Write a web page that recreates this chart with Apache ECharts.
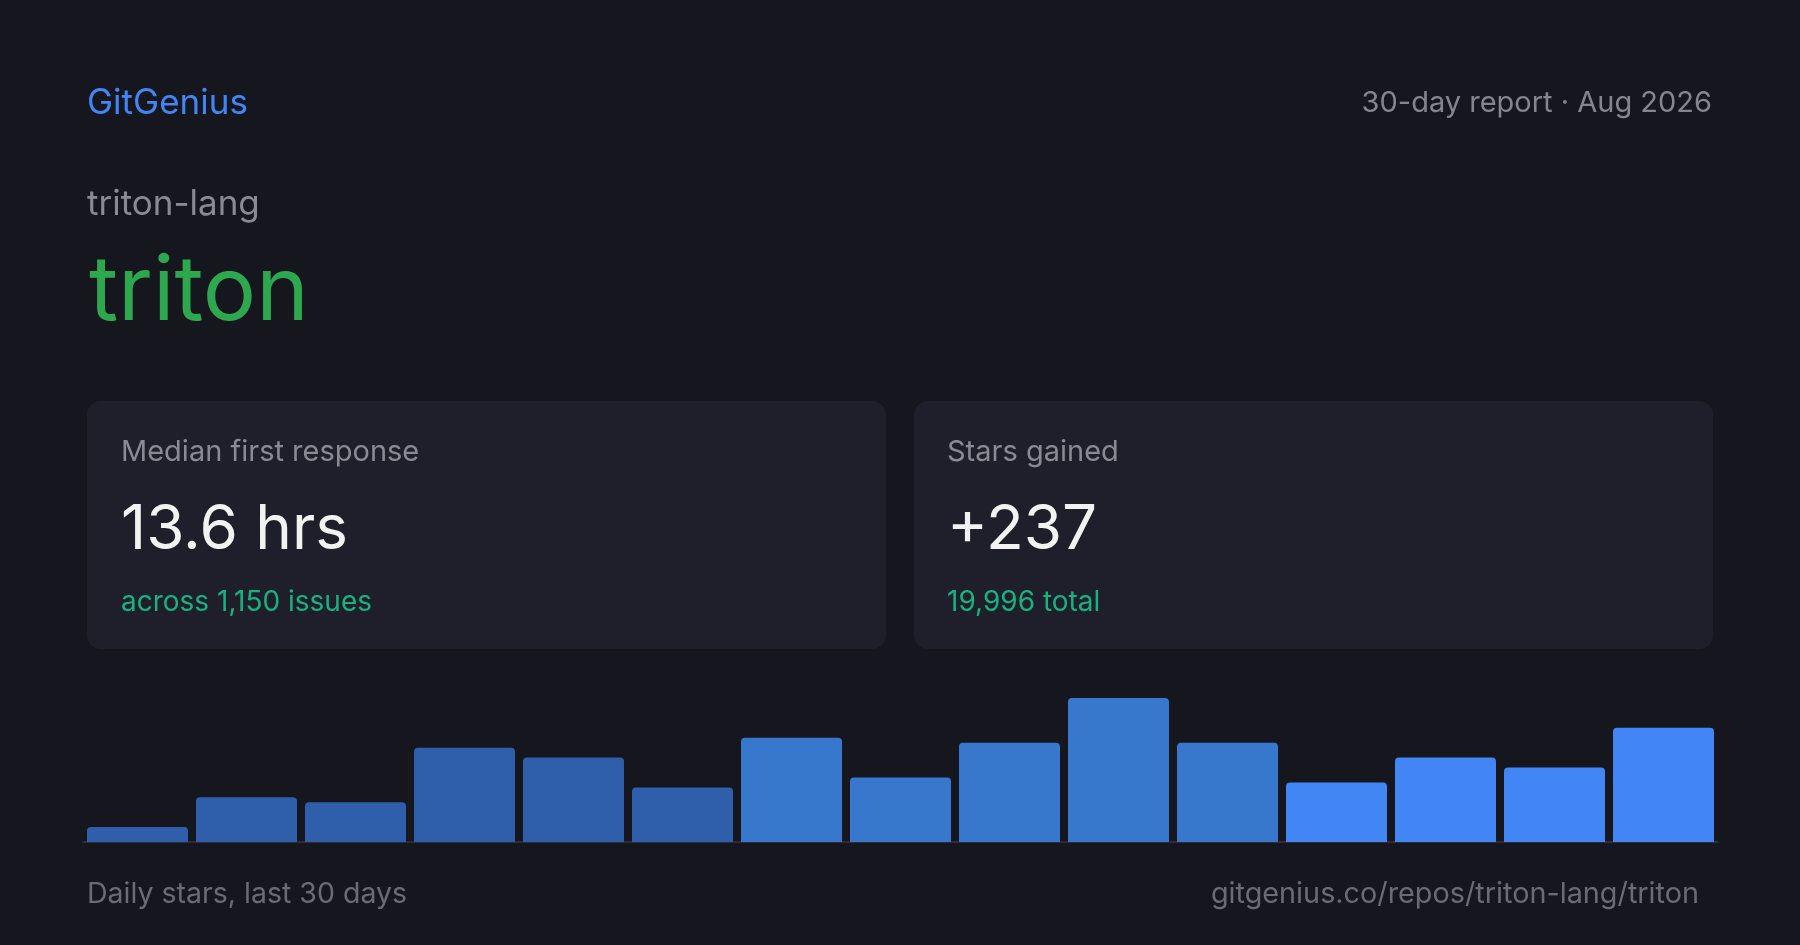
<!DOCTYPE html>
<html>
<head>
<meta charset="utf-8">
<script src="https://cdn.jsdelivr.net/npm/echarts@6/dist/echarts.min.js"></script>
<style>
html,body{margin:0;padding:0;background:#16161f;}
#chart{width:1800px;height:945px;}
</style>
</head>
<body>
<div id="chart"></div>
<script>
// ---- data ----
const days = ['1','2','3','4','5','6','7','8','9','10','11','12','13','14','15'];
const dailyStars = [3, 9, 8, 19, 17, 11, 21, 13, 20, 29, 20, 12, 17, 15, 23];
const brand = 'GitGenius';
const reportLabel = '30-day report · Aug 2026';
const owner = 'triton-lang';
const repo = 'triton';
const card1Title = 'Median first response';
const card1Value = '13.6 hrs';
const card1Sub = 'across 1,150 issues';
const card2Title = 'Stars gained';
const card2Value = '+237';
const card2Sub = '19,996 total';
const footerLeft = 'Daily stars, last 30 days';
const footerRight = 'gitgenius.co/repos/triton-lang/triton';

const FONT = 'Inter, "Noto Sans", sans-serif';
const chart = echarts.init(document.getElementById('chart'), null, {renderer: 'canvas'});

function txt(x, y, text, size, color, align, weight) {
  return {
    type: 'text', x: x, y: y, silent: true,
    style: {
      text: text, fontFamily: FONT, fontSize: size, fill: color,
      align: align || 'left', verticalAlign: 'middle', fontWeight: weight || 400
    }
  };
}
function card(x) {
  return {
    type: 'rect', silent: true, z: -1,
    shape: {x: x, y: 401, width: 799, height: 248, r: 14},
    style: {fill: '#1f1f2b'}
  };
}

const option = {
  backgroundColor: '#16161f',
  animation: false,
  grid: {left: 83, right: 82, top: 698, bottom: 103, containLabel: false},
  xAxis: {
    type: 'category', data: days,
    axisLine: {show: true, lineStyle: {color: '#2b2b3a', width: 2}},
    axisTick: {show: false}, axisLabel: {show: false}, splitLine: {show: false}
  },
  yAxis: {
    type: 'value', min: 0, max: 29, show: false, splitLine: {show: false}
  },
  series: [{
    type: 'bar', data: dailyStars, barCategoryGap: '7.34%',
    itemStyle: {
      borderRadius: [4, 4, 0, 0],
      color: function (p) {
        if (p.dataIndex < 6) return '#2f5faa';
        if (p.dataIndex < 11) return '#3778cc';
        return '#4285f4';
      }
    }
  }],
  graphic: [
    card(87), card(914),
    txt(87, 103.5, brand, 35, '#4285f4'),
    txt(1712, 103.5, reportLabel, 29, '#85858f', 'right'),
    txt(87, 204, owner, 35, '#8a8a94'),
    txt(89, 293.5, repo, 89, '#2ea84f'),
    txt(121, 452, card1Title, 29, '#8a8a94'),
    txt(121, 530, card1Value, 62, '#f2f2f0'),
    txt(121, 603, card1Sub, 28, '#19b27f'),
    txt(947, 452, card2Title, 29, '#8a8a94'),
    txt(947, 530, card2Value, 62, '#f2f2f0'),
    txt(947, 603, card2Sub, 28, '#19b27f'),
    txt(87, 894, footerLeft, 28.5, '#6b6b75'),
    txt(1699, 894, footerRight, 28.8, '#6b6b75', 'right')
  ]
};
chart.setOption(option);
</script>
</body>
</html>
